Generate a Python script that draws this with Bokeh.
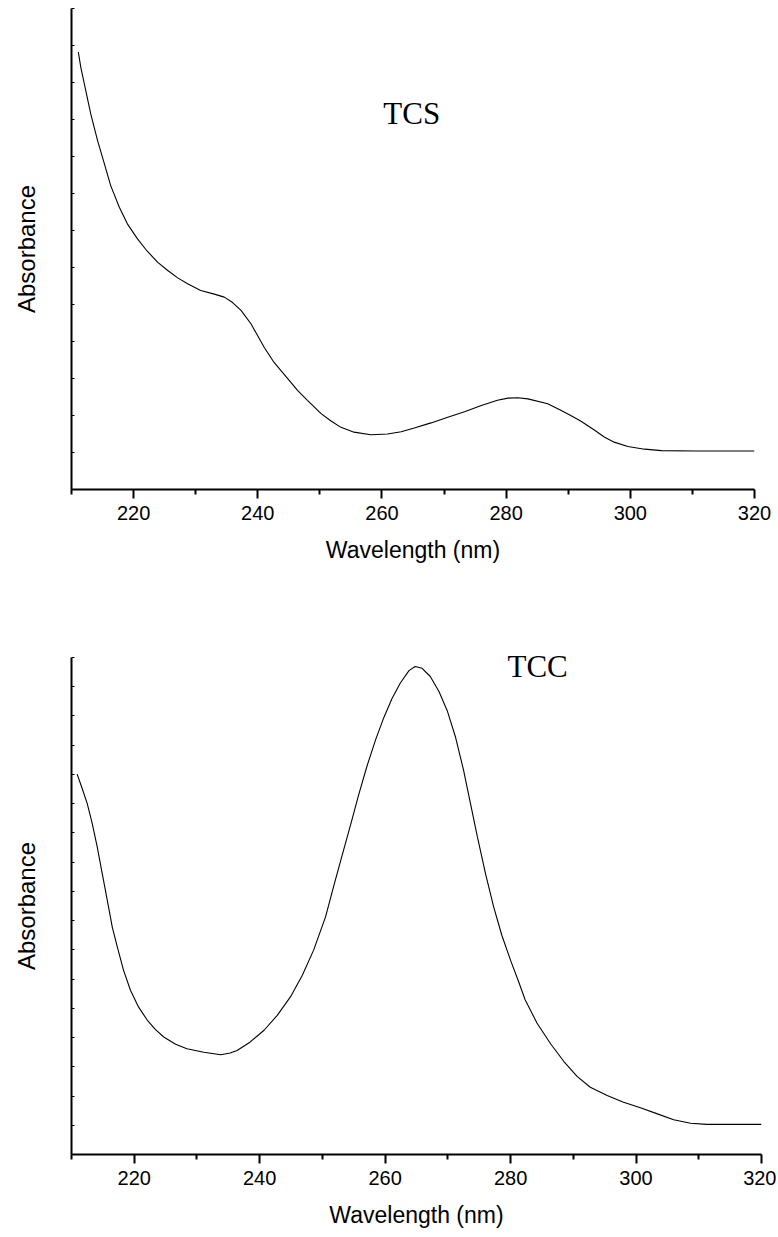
from bokeh.plotting import figure
from bokeh.layouts import column
from bokeh.models import FixedTicker, CustomJSTickFormatter, Label, Range1d
from bokeh.embed import file_html
from bokeh.resources import INLINE

# ---- data ----
tcs_nm = [211.1, 211.5, 212.3, 213.1, 214.2, 215.3, 216.3, 217.7, 219.0, 220.6,
          222.2, 223.9, 225.5, 227.1, 228.7, 230.8, 233.0, 234.6, 235.9, 237.3,
          238.9, 241.0, 242.6, 243.7, 245.3, 246.4, 248.0, 250.2, 251.8, 253.4,
          255.5, 258.2, 260.9, 263.1, 265.2, 267.9, 270.6, 273.3, 276.0, 278.6,
          280.3, 281.9, 283.5, 286.7, 288.8, 290.4, 292.0, 294.2, 295.8, 297.4,
          299.6, 302.3, 305.0, 310.3, 315.7, 320.0]
tcs_abs = [1.182, 1.141, 1.078, 1.015, 0.943, 0.880, 0.822, 0.763, 0.718, 0.678,
           0.644, 0.614, 0.592, 0.572, 0.556, 0.538, 0.528, 0.520, 0.506, 0.484,
           0.448, 0.385, 0.344, 0.322, 0.290, 0.268, 0.241, 0.205, 0.185, 0.168,
           0.155, 0.148, 0.150, 0.156, 0.166, 0.180, 0.195, 0.210, 0.227, 0.241,
           0.247, 0.248, 0.245, 0.232, 0.214, 0.200, 0.185, 0.161, 0.142, 0.128,
           0.116, 0.109, 0.105, 0.104, 0.104, 0.104]

tcc_nm = [210.9, 211.7, 212.5, 213.3, 214.1, 214.9, 215.7, 216.5, 217.3, 218.3,
          219.4, 220.7, 222.1, 223.4, 224.7, 226.6, 228.4, 231.1, 233.8, 235.3,
          236.4, 238.5, 240.7, 242.8, 244.9, 246.8, 248.6, 250.5, 251.8, 253.1,
          254.5, 255.8, 257.1, 258.5, 259.8, 261.1, 262.4, 263.8, 264.8, 265.9,
          267.2, 268.6, 269.9, 271.2, 272.5, 273.6, 274.7, 276.0, 277.3, 278.6,
          280.0, 281.3, 282.3, 284.2, 286.4, 288.5, 290.6, 292.7, 295.4, 298.0,
          300.7, 303.4, 306.0, 308.7, 311.3, 314.0, 320.0]
tcc_abs = [1.301, 1.252, 1.201, 1.133, 1.052, 0.961, 0.870, 0.778, 0.710, 0.630,
           0.562, 0.504, 0.459, 0.427, 0.402, 0.377, 0.362, 0.350, 0.341, 0.347,
           0.356, 0.385, 0.425, 0.476, 0.539, 0.613, 0.699, 0.813, 0.918, 1.020,
           1.128, 1.232, 1.328, 1.420, 1.495, 1.560, 1.612, 1.655, 1.669, 1.663,
           1.635, 1.583, 1.518, 1.429, 1.315, 1.201, 1.087, 0.961, 0.847, 0.750,
           0.664, 0.590, 0.530, 0.450, 0.378, 0.318, 0.267, 0.230, 0.202, 0.179,
           0.160, 0.139, 0.119, 0.107, 0.103, 0.103, 0.103]

x_major = [220, 240, 260, 280, 300, 320]
x_minor = [210, 230, 250, 270, 290, 310]
tcs_yticks = [round(0.1 * i, 1) for i in range(0, 14)]
tcc_yticks = [round(0.1 * i, 1) for i in range(0, 18)]

x_title = "Wavelength (nm)"
y_title = "Absorbance"


def make_fig(xs, ys, yticks, ymax, left, fw, fh, top, bottom, right, title=""):
    p = figure(frame_width=fw, frame_height=fh, min_border_left=left,
               min_border_right=right, min_border_top=top, min_border_bottom=bottom,
               x_range=Range1d(210, 320), y_range=Range1d(0, ymax), title=title,
               output_backend="svg", toolbar_location=None)
    p.outline_line_color = None
    p.xgrid.visible = False
    p.ygrid.visible = False
    p.background_fill_color = "white"
    p.border_fill_color = "white"

    xa = p.xaxis[0]
    xa.ticker = FixedTicker(ticks=x_major, minor_ticks=x_minor)
    xa.axis_line_width = 2
    xa.axis_line_color = "black"
    xa.major_tick_line_width = 2
    xa.major_tick_line_color = "black"
    xa.minor_tick_line_width = 2
    xa.minor_tick_line_color = "black"
    xa.major_tick_in = 0
    xa.major_tick_out = 9
    xa.minor_tick_in = 0
    xa.minor_tick_out = 5
    xa.major_label_text_font = "Liberation Sans"
    xa.major_label_text_font_size = "20px"
    xa.major_label_text_color = "black"
    xa.major_label_standoff = 7
    xa.axis_label = x_title
    xa.axis_label_text_font = "Liberation Sans"
    xa.axis_label_text_font_size = "23px"
    xa.axis_label_text_font_style = "normal"
    xa.axis_label_text_color = "black"
    xa.axis_label_standoff = 14

    ya = p.yaxis[0]
    ya.ticker = FixedTicker(ticks=yticks, minor_ticks=[])
    ya.formatter = CustomJSTickFormatter(code="return ''")
    ya.axis_line_width = 2
    ya.axis_line_color = "black"
    ya.major_tick_line_width = 1
    ya.major_tick_line_color = "black"
    ya.major_tick_in = 3
    ya.major_tick_out = 0
    ya.minor_tick_in = 0
    ya.minor_tick_out = 0
    ya.major_label_standoff = 0
    ya.axis_label = y_title
    ya.axis_label_text_font = "Liberation Sans"
    ya.axis_label_text_font_size = "24px"
    ya.axis_label_text_font_style = "normal"
    ya.axis_label_text_color = "black"
    ya.axis_label_standoff = 32

    p.line(xs, ys, line_color="black", line_width=1.1)
    return p


p1 = make_fig(tcs_nm, tcs_abs, tcs_yticks, 1.3,
              left=71, fw=683, fh=481, top=8, bottom=100, right=22)
p1.add_layout(Label(x=264.8, y=1.016, text="TCS", text_font="Liberation Serif",
                    text_font_size="31px", text_color="black",
                    text_align="center", text_baseline="middle"))

p2 = make_fig(tcc_nm, tcc_abs, tcc_yticks, 1.7,
              left=68, fw=690, fh=497, top=68, bottom=75, right=18, title="TCC")
p2.title.align = "left"
p2.title.offset = 436
p2.title.standoff = -52
p2.title.vertical_align = "bottom"
p2.title.text_font = "Liberation Serif"
p2.title.text_font_size = "31px"
p2.title.text_font_style = "normal"
p2.title.text_color = "black"

layout = column(p1, p2, spacing=0)
open("out.html", "w").write(file_html(layout, INLINE))
